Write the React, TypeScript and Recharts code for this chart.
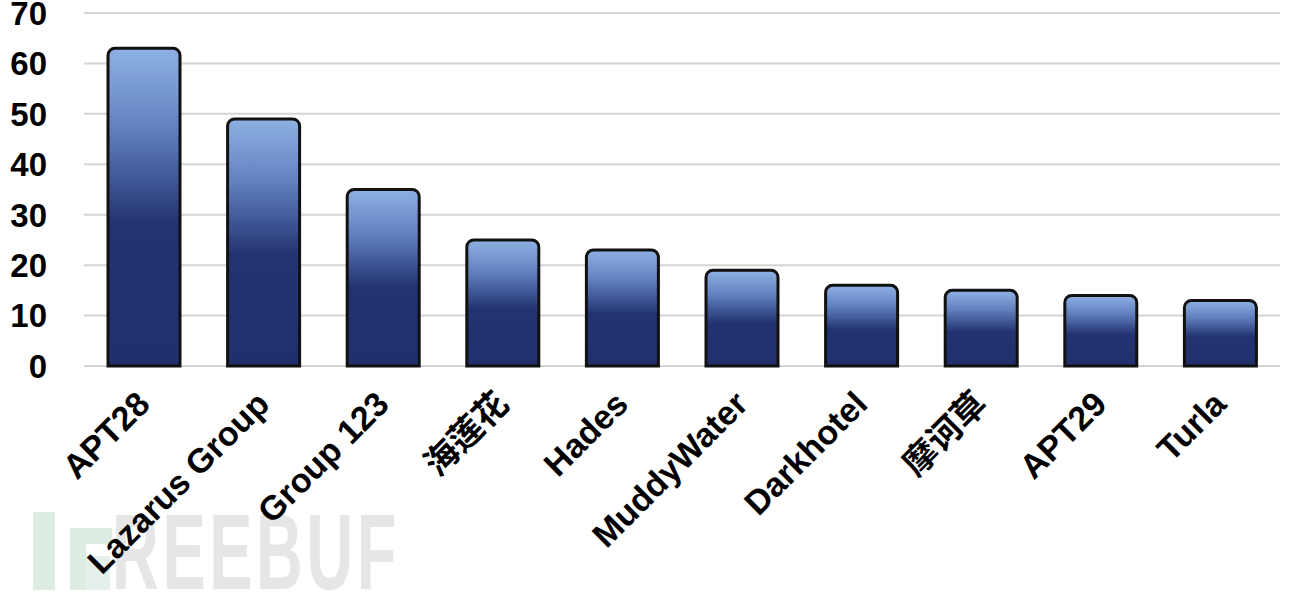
import React from "react";
import { BarChart, Bar, XAxis, YAxis, CartesianGrid } from "recharts";

const groups = [
  "APT28",
  "Lazarus Group",
  "Group 123",
  "海莲花",
  "Hades",
  "MuddyWater",
  "Darkhotel",
  "摩诃草",
  "APT29",
  "Turla",
];
const counts = [63, 49, 35, 25, 23, 19, 16, 15, 14, 13];
const yTicks = [0, 10, 20, 30, 40, 50, 60, 70];

const data = groups.map((name, i) => ({ name, count: counts[i] }));

const FONT = "'Liberation Sans', Arial, 'Noto Sans CJK SC', sans-serif";

function XTick({ x, y, payload }: any) {
  return (
    <g transform={`translate(${x + 8},${y + 40}) rotate(-45)`}>
      <text
        x={0}
        y={0}
        textAnchor="end"
        fill="#000"
        fontFamily={FONT}
        fontWeight="bold"
        fontSize={34}
      >
        {payload.value}
      </text>
    </g>
  );
}

function YTick({ x, y, payload }: any) {
  return (
    <text
      x={x - 37}
      y={y}
      dy="0.36em"
      textAnchor="end"
      fill="#000"
      fontFamily={FONT}
      fontWeight="bold"
      fontSize={33}
    >
      {payload.value}
    </text>
  );
}

function Watermark() {
  return (
    <div style={{ position: "absolute", left: 0, top: 0, width: 1290, height: 595 }}>
      <div style={{ position: "absolute", left: 33, top: 512, width: 22, height: 78, background: "#deede4" }} />
      <div style={{ position: "absolute", left: 70, top: 528, width: 42, height: 16, background: "#deede4" }} />
      <div style={{ position: "absolute", left: 70, top: 544, width: 16, height: 46, background: "#deede4" }} />
      <div style={{ position: "absolute", left: 86, top: 556, width: 24, height: 34, background: "#e6f0ea" }} />
      <div
        style={{
          position: "absolute",
          left: 112,
          top: 487,
          fontFamily: FONT,
          fontSize: 108,
          fontWeight: "bold",
          lineHeight: "130px",
          color: "#e6e6e6",
          letterSpacing: 6,
          transform: "scaleX(0.6)",
          transformOrigin: "left top",
          whiteSpace: "nowrap",
        }}
      >
        REEBUF
      </div>
    </div>
  );
}

export default function App() {
  return (
    <div style={{ position: "absolute", left: 0, top: 0, width: 1290, height: 595, background: "#fff", overflow: "hidden" }}>
      <Watermark />
      <div style={{ position: "absolute", left: 0, top: 0 }}>
        <BarChart
          width={1290}
          height={595}
          data={data}
          margin={{ top: 13, right: 10, left: 0, bottom: 0 }}
          barCategoryGap={0}
        >
          <defs>
            <linearGradient id="barFill" x1="0" y1="0" x2="0" y2="1">
              <stop offset="0%" stopColor="#8eb1e3" />
              <stop offset="25%" stopColor="#6282c0" />
              <stop offset="55%" stopColor="#233371" />
              <stop offset="100%" stopColor="#20306c" />
            </linearGradient>
          </defs>
          <CartesianGrid vertical={false} stroke="#d4d4d4" strokeWidth={2} />
          <XAxis
            dataKey="name"
            interval={0}
            axisLine={false}
            tickLine={false}
            tickSize={0}
            tickMargin={0}
            height={229}
            tick={<XTick />}
          />
          <YAxis
            domain={[0, 70]}
            ticks={yTicks}
            width={84}
            axisLine={false}
            tickLine={false}
            tickSize={0}
            tickMargin={0}
            tick={<YTick />}
          />
          <Bar
            dataKey="count"
            fill="url(#barFill)"
            stroke="#111"
            strokeWidth={3}
            barSize={72}
            radius={[7, 7, 0, 0]}
            isAnimationActive={false}
          />
        </BarChart>
      </div>
    </div>
  );
}
